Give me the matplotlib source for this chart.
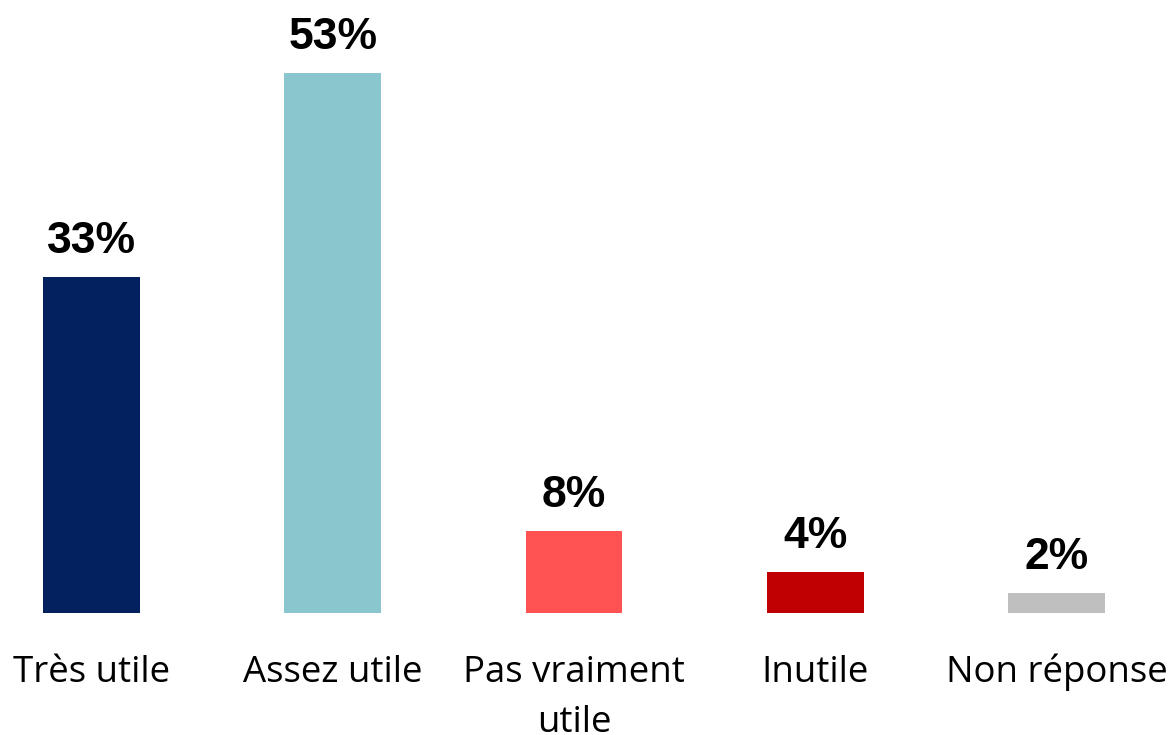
import matplotlib
matplotlib.use("Agg")
import matplotlib.pyplot as plt

categories = ["Très utile", "Assez utile", "Pas vraiment\nutile", "Inutile", "Non réponse"]
values = [33, 53, 8, 4, 2]
colors = ["#03215E", "#8AC6CE", "#FF5252", "#C00000", "#BFBFBF"]

fig = plt.figure(figsize=(11.71, 7.35), dpi=100)
ax = fig.add_axes([0, 122 / 735, 1, 613 / 735])

x = range(len(values))
ax.bar(x, values, width=0.402, color=colors)
ax.set_xlim(-0.3793, 4.4746)
ax.set_ylim(0, 613 / 10.19)
ax.axis("off")

px = 72 / 100  # pixels -> points
for i, v in enumerate(values):
    ax.annotate(f"{v}%", xy=(i, v), xytext=(0, 24 * px), textcoords="offset points",
                ha="center", va="baseline", fontsize=32, fontweight="bold",
                family="Liberation Sans", color="black")
    # category label, one line at a time (50 px line pitch)
    for k, line in enumerate(categories[i].split("\n")):
        ax.annotate(line, xy=(i, 0), xytext=(0, -(69 + 50 * k) * px),
                    textcoords="offset points", ha="center", va="baseline",
                    fontsize=26.4, family="Open Sans", color="black",
                    annotation_clip=False)

fig.savefig("out.png", dpi=100)
